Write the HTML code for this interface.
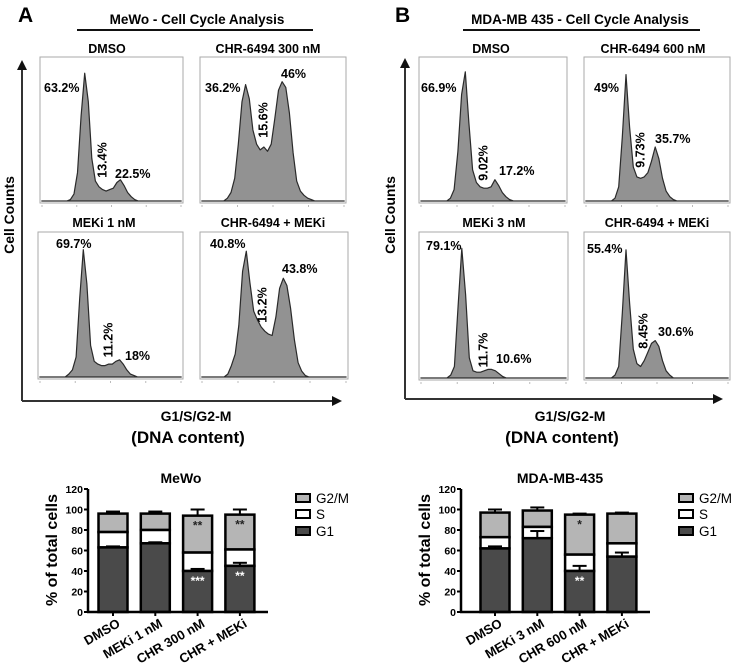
<!DOCTYPE html>
<html><head><meta charset="utf-8">
<style>
html,body{margin:0;padding:0;background:#fff;}
svg{display:block;font-family:"Liberation Sans",Arial,sans-serif;}
.b{font-weight:bold;}
</style></head>
<body>
<svg id="fig" width="733" height="664" viewBox="0 0 733 664" xmlns="http://www.w3.org/2000/svg">
<defs>
<marker id="ah" markerWidth="10" markerHeight="10" refX="8" refY="5" orient="auto" markerUnits="userSpaceOnUse"><path d="M0,0 L10,5 L0,10 z" fill="#111"/></marker>
</defs>
<text x="18" y="22" class="b" font-size="21">A</text>
<text x="197" y="24" class="b" font-size="13.5" text-anchor="middle">MeWo - Cell Cycle Analysis</text>
<line x1="77" y1="30" x2="313" y2="30" stroke="#111" stroke-width="2"/>
<text x="107" y="53" class="b" font-size="12.5" text-anchor="middle">DMSO</text>
<text x="268" y="53" class="b" font-size="12.5" text-anchor="middle">CHR-6494 300 nM</text>
<text x="104" y="227" class="b" font-size="12.5" text-anchor="middle">MEKi 1 nM</text>
<text x="273" y="227" class="b" font-size="12.5" text-anchor="middle">CHR-6494 + MEKi</text>
<line x1="22" y1="401" x2="22" y2="62" stroke="#333" stroke-width="2" marker-end="url(#ah)"/>
<line x1="22" y1="401" x2="340" y2="401" stroke="#333" stroke-width="2" marker-end="url(#ah)"/>
<text transform="translate(14,215) rotate(-90)" class="b" font-size="14" text-anchor="middle">Cell Counts</text>
<text x="196" y="421" class="b" font-size="14" text-anchor="middle">G1/S/G2-M</text>
<text x="188" y="443" class="b" font-size="17" text-anchor="middle">(DNA content)</text>
<text x="395" y="22" class="b" font-size="21">B</text>
<text x="580" y="24" class="b" font-size="13.5" text-anchor="middle">MDA-MB 435 - Cell Cycle Analysis</text>
<line x1="463" y1="30" x2="700" y2="30" stroke="#111" stroke-width="2"/>
<text x="491" y="53" class="b" font-size="12.5" text-anchor="middle">DMSO</text>
<text x="653" y="53" class="b" font-size="12.5" text-anchor="middle">CHR-6494 600 nM</text>
<text x="494" y="227" class="b" font-size="12.5" text-anchor="middle">MEKi 3 nM</text>
<text x="657" y="227" class="b" font-size="12.5" text-anchor="middle">CHR-6494 + MEKi</text>
<line x1="405" y1="399" x2="405" y2="60" stroke="#333" stroke-width="2" marker-end="url(#ah)"/>
<line x1="405" y1="399" x2="721" y2="399" stroke="#333" stroke-width="2" marker-end="url(#ah)"/>
<text transform="translate(395,215) rotate(-90)" class="b" font-size="14" text-anchor="middle">Cell Counts</text>
<text x="570" y="421" class="b" font-size="14" text-anchor="middle">G1/S/G2-M</text>
<text x="562" y="443" class="b" font-size="17" text-anchor="middle">(DNA content)</text>
<g id="hists"></g>
<g id="bars"></g>
</svg>
<script>
// ---- histogram data (relative counts per DNA-content bin, 40 bins) ----
const histBins = 40;
const histADmso   = [0,0,0,0,0,0,0,0,1,5,20,60,90,70,30,14,10,8,7,8,9,13,15,11,6,3,1,0,0,0,0,0,0,0,0,0,0,0,0,0];
const histAChr300 = [0,0,0,0,0,0,0,2,6,16,40,70,82,72,50,40,36,38,35,40,58,78,84,80,62,34,14,7,4,2,1,0,0,0,0,0,0,0,0,0];
const histAMeki   = [0,0,0,0,0,0,0,0,2,5,14,55,89,65,22,11,9,8,8,9,9,11,12,9,5,2,1,0,0,0,0,0,0,0,0,0,0,0,0,0];
const histAChrMeki= [0,0,0,0,0,0,0,2,8,16,36,74,88,66,46,40,35,32,30,29,42,62,69,64,48,26,10,4,1,0,0,0,0,0,0,0,0,0,0,0];
const histBDmso   = [0,0,0,0,0,0,0,0,2,8,35,75,91,55,22,13,10,9,9,10,15,11,6,3,1,0,0,0,0,0,0,0,0,0,0,0,0,0,0,0];
const histBChr600 = [0,0,0,0,0,0,0,0,2,10,45,89,52,24,17,16,17,20,28,38,30,16,7,3,1,0,0,0,0,0,0,0,0,0,0,0,0,0,0,0];
const histBMeki   = [0,0,0,0,0,0,0,0,2,8,50,90,58,14,5,4,4,5,6,6,5,3,1,0,0,0,0,0,0,0,0,0,0,0,0,0,0,0,0,0];
const histBChrMeki= [0,0,0,0,0,0,0,0,2,8,45,89,52,20,10,8,12,18,24,26,22,12,5,2,0,0,0,0,0,0,0,0,0,0,0,0,0,0,0,0];
const histLabelsADmso = ["63.2%","13.4%","22.5%"];
const histLabelsAChr300 = ["36.2%","15.6%","46%"];
const histLabelsAMeki = ["69.7%","11.2%","18%"];
const histLabelsAChrMeki = ["40.8%","13.2%","43.8%"];
const histLabelsBDmso = ["66.9%","9.02%","17.2%"];
const histLabelsBChr600 = ["49%","9.73%","35.7%"];
const histLabelsBMeki = ["79.1%","11.7%","10.6%"];
const histLabelsBChrMeki = ["55.4%","8.45%","30.6%"];

// ---- bar chart data ----
const barCats1 = ["DMSO","MEKi 1 nM","CHR 300 nM","CHR + MEKi"];
const mewoG1 = [63,67,40,45];
const mewoS  = [15,13,18,16];
const mewoG2 = [18,16,36,34];
const mewoTotErr = [2,2,6,5];
const mewoG1Err = [1,1,2,3];
const mewoStarsG2 = ["","","**","**"];
const mewoStarsG1 = ["","","***","**"];
const barCats2 = ["DMSO","MEKi 3 nM","CHR 600 nM","CHR + MEKi"];
const mdaG1 = [62,72,40,54];
const mdaS  = [11,11,16,13];
const mdaG2 = [24,16,39,29];
const mdaTotErr = [3,3,1,1];
const mdaG1Err = [2,7,5,4];
const mdaStarsG2 = ["","","*",""];
const mdaStarsG1 = ["","","**",""];
const yTicks = [0,20,40,60,80,100,120];

const NS = "http://www.w3.org/2000/svg";
function mk(tag, attrs, parent){
  const e = document.createElementNS(NS, tag);
  for (const k in attrs) e.setAttribute(k, attrs[k]);
  parent.appendChild(e);
  return e;
}
const hg = document.getElementById('hists');

function drawHist(name, data, labels, box, lp){
  const g = mk('g', {}, hg);
  
  
  const fr = mk('rect', {x:box.x, y:box.y, width:box.w, height:box.h, fill:'#fff', stroke:'#aaa', 'stroke-width':1}, g);
  
  
  const base = box.y + box.h - 2;
  const xs = i => box.x + (i + 0.5) / histBins * box.w;
  const ys = v => base - v / 100 * (box.h - 4);
  let d = 'M' + (box.x + 2) + ',' + base;
  data.forEach((v, i) => { d += ' L' + xs(i).toFixed(1) + ',' + ys(v).toFixed(1); });
  d += ' L' + (box.x + box.w - 2) + ',' + base + ' Z';
  const p = mk('path', {d:d, fill:'#929292', stroke:'#2a2a2a', 'stroke-width':1.2, 'stroke-linejoin':'round'}, g);
  
  
  for (let t = 0; t < 5; t++){
    const tk = mk('line', {x1:box.x + 2 + t * (box.w - 4) / 4, x2:box.x + 2 + t * (box.w - 4) / 4, y1:box.y + box.h + 2, y2:box.y + box.h + 4, stroke:'#bbb', 'stroke-width':1}, g);
    
    
  }
  const t1 = mk('text', {x:lp[0][0], y:lp[0][1], 'font-size':12.5, 'font-weight':'bold'}, g);
  t1.textContent = labels[0];
  
  
  const t2 = mk('text', {transform:'translate(' + lp[1][0] + ',' + lp[1][1] + ') rotate(-90)', 'font-size':12.5, 'font-weight':'bold', 'text-anchor':'middle', 'dominant-baseline':'middle'}, g);
  t2.textContent = labels[1];
  
  
  const t3 = mk('text', {x:lp[2][0], y:lp[2][1], 'font-size':12.5, 'font-weight':'bold'}, g);
  t3.textContent = labels[2];
  
  
}
drawHist('hist-a-dmso', histADmso, histLabelsADmso, {x:40,y:57,w:143,h:146}, [[44,92],[103,160],[115,178]]);
drawHist('hist-a-chr300', histAChr300, histLabelsAChr300, {x:200,y:57,w:146,h:146}, [[205,92],[264,120],[281,78]]);
drawHist('hist-a-meki', histAMeki, histLabelsAMeki, {x:38,y:232,w:145,h:147}, [[56,248],[109,340],[125,360]]);
drawHist('hist-a-chrmeki', histAChrMeki, histLabelsAChrMeki, {x:200,y:232,w:148,h:147}, [[210,248],[263,305],[282,273]]);
drawHist('hist-b-dmso', histBDmso, histLabelsBDmso, {x:419,y:57,w:148,h:146}, [[421,92],[484,163],[499,175]]);
drawHist('hist-b-chr600', histBChr600, histLabelsBChr600, {x:584,y:57,w:146,h:146}, [[594,92],[641,150],[655,143]]);
drawHist('hist-b-meki', histBMeki, histLabelsBMeki, {x:419,y:232,w:149,h:148}, [[426,250],[484,350],[496,363]]);
drawHist('hist-b-chrmeki', histBChrMeki, histLabelsBChrMeki, {x:584,y:232,w:146,h:148}, [[587,253],[644,331],[658,336]]);

// ---- bar charts ----
const bg = document.getElementById('bars');
function drawBars(name, title, cats, g1, s, g2, totErr, g1Err, starsG2, starsG1, L){
  const g = mk('g', {}, bg);
  
  
  const y = v => L.y0 - v / 120 * (L.y0 - L.y120);
  const xc = i => L.x0 + L.first + i * L.step;
  const tt = mk('text', {x:L.titleX, y:483, 'font-size':14, 'font-weight':'bold', 'text-anchor':'middle'}, g);
  tt.textContent = title;
  
  
  const yt = mk('text', {transform:'translate(' + (L.x0 - 31) + ',' + 550 + ') rotate(-90)', 'font-size':16, 'font-weight':'bold', 'text-anchor':'middle'}, g);
  yt.textContent = '% of total cells';
  
  
  yTicks.forEach(t => {
    const tl = mk('line', {x1:L.x0 - 4, x2:L.x0, y1:y(t), y2:y(t), stroke:'#000', 'stroke-width':2}, g);
    
    
    const tx = mk('text', {x:L.x0 - 5, y:y(t) + 4, 'font-size':10.5, 'font-weight':'bold', 'text-anchor':'end'}, g);
    tx.textContent = t;
    
    
  });
  cats.forEach((c, i) => {
    const cx = xc(i), w = 29;
    const tot = g1[i] + s[i] + g2[i];
    const eb = mk('line', {x1:cx, x2:cx, y1:y(tot), y2:y(tot + totErr[i]), stroke:'#000', 'stroke-width':2}, g);
    
    
    const ec = mk('line', {x1:cx - 7, x2:cx + 7, y1:y(tot + totErr[i]), y2:y(tot + totErr[i]), stroke:'#000', 'stroke-width':2}, g);
    
    
    const r2 = mk('rect', {x:cx - w/2, y:y(tot), width:w, height:y(g1[i] + s[i]) - y(tot), fill:'#b5b5b5', stroke:'#000', 'stroke-width':2.5}, g);
    
    
    const r1 = mk('rect', {x:cx - w/2, y:y(g1[i] + s[i]), width:w, height:y(g1[i]) - y(g1[i] + s[i]), fill:'#fff', stroke:'#000', 'stroke-width':2.5}, g);
    
    
    const r0 = mk('rect', {x:cx - w/2, y:y(g1[i]), width:w, height:y(0) - y(g1[i]), fill:'#4a4a4a', stroke:'#000', 'stroke-width':2.5}, g);
    
    
    const e1 = mk('line', {x1:cx, x2:cx, y1:y(g1[i]), y2:y(g1[i] + g1Err[i]), stroke:'#000', 'stroke-width':2}, g);
    
    
    const e1c = mk('line', {x1:cx - 7, x2:cx + 7, y1:y(g1[i] + g1Err[i]), y2:y(g1[i] + g1Err[i]), stroke:'#000', 'stroke-width':2}, g);
    
    
    if (starsG2[i]){
      const st = mk('text', {x:cx, y:y(tot) + 14, 'font-size':12, 'font-weight':'bold', 'text-anchor':'middle', fill:'#222'}, g);
      st.textContent = starsG2[i];
      
      
    }
    if (starsG1[i]){
      const st = mk('text', {x:cx, y:y(g1[i]) + 14, 'font-size':12, 'font-weight':'bold', 'text-anchor':'middle', fill:'#fff'}, g);
      st.textContent = starsG1[i];
      
      
    }
    const tk = mk('line', {x1:cx, x2:cx, y1:y(0), y2:y(0) + 4, stroke:'#000', 'stroke-width':2}, g);
    
    
    const xl = mk('text', {transform:'translate(' + (cx + 8) + ',' + (y(0) + 14) + ') rotate(-30)', 'font-size':13, 'font-weight':'bold', 'text-anchor':'end'}, g);
    xl.textContent = c;
    
    
  });
  const ya = mk('line', {x1:L.x0, x2:L.x0, y1:y(120), y2:y(0) + 1, stroke:'#000', 'stroke-width':2.5}, g);
  
  
  const xa = mk('line', {x1:L.x0 - 1, x2:L.xEnd, y1:y(0), y2:y(0), stroke:'#000', 'stroke-width':2.5}, g);
  
  
  const leg = [['G2/M','#b5b5b5',498],['S','#fff',514],['G1','#4a4a4a',531]];
  leg.forEach(l => {
    const lr = mk('rect', {x:L.legX, y:l[2] - 4, width:14, height:8, fill:l[1], stroke:'#000', 'stroke-width':2}, g);
    
    
    const lt = mk('text', {x:L.legX + 20, y:l[2] + 5, 'font-size':13.5}, g);
    lt.textContent = l[0];
    
    
  });
}
drawBars('mewo-bar-chart', 'MeWo', barCats1, mewoG1, mewoS, mewoG2, mewoTotErr, mewoG1Err, mewoStarsG2, mewoStarsG1,
  {x0:88, y0:612, y120:489, first:25, step:42.3, xEnd:268, titleX:181, legX:296});
drawBars('mda-bar-chart', 'MDA-MB-435', barCats2, mdaG1, mdaS, mdaG2, mdaTotErr, mdaG1Err, mdaStarsG2, mdaStarsG1,
  {x0:461, y0:612, y120:489, first:34, step:42.3, xEnd:650, titleX:560, legX:679});
</script>
</body></html>
